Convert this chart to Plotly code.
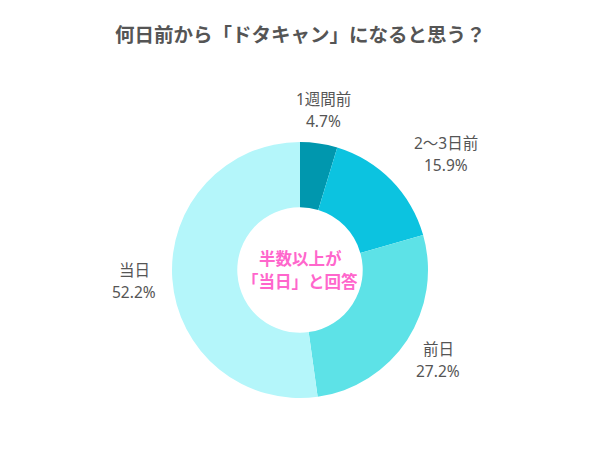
import math
import plotly.graph_objects as go

categories = ["1週間前", "2〜3日前", "前日", "当日"]
values = [4.7, 15.9, 27.2, 52.2]
value_labels = ["4.7%", "15.9%", "27.2%", "52.2%"]
colors = ["#0097AE", "#0CC3E0", "#5DE2E7", "#B4F6FA"]

title_text = "何日前から「ドタキャン」になると思う？"
center_lines = ["半数以上が", "「当日」と回答"]

W, H = 600, 450
cx, cy, R = 300, 270, 128  # pixel center / radius
label_style = dict(radius=[162, 187, 165, 166], angle_nudge=[0, 6, 0, 0])

FONT = "Noto Sans CJK JP"
LFONT = "Noto Sans, Noto Sans CJK JP"

fig = go.Figure(go.Pie(
    labels=categories, values=values, sort=False, direction="clockwise",
    rotation=0, hole=0.49, marker=dict(colors=colors, line=dict(width=0)),
    textinfo="none", hoverinfo="label+percent", showlegend=False,
    domain=dict(x=[(cx - R) / W, (cx + R) / W],
                y=[(H - cy - R) / H, (H - cy + R) / H]),
))

annotations = []
total = sum(values)
cum = 0
for i, (c, v, vl) in enumerate(zip(categories, values, value_labels)):
    mid = (cum + v / 2) / total * 2 * math.pi + math.radians(label_style["angle_nudge"][i])
    cum += v
    r = label_style["radius"][i]
    px = cx + r * math.sin(mid)
    py = cy - r * math.cos(mid)
    for txt, off in ((c, -11), (vl, 11)):
        annotations.append(dict(
            x=px / W, y=(H - (py + off)) / H, xref="paper", yref="paper",
            text=txt, showarrow=False, xanchor="center", yanchor="middle",
            font=dict(family=LFONT, size=15.5, color="#555555")))

for txt, off in zip(center_lines, (-12, 11)):
    annotations.append(dict(
        x=cx / W, y=(H - (cy + off)) / H, xref="paper", yref="paper",
        text="<b>" + txt + "</b>", showarrow=False,
        xanchor="center", yanchor="middle",
        font=dict(family=FONT, size=16.5, color="#FF66CC")))

annotations.append(dict(
    x=0.5, y=(H - 33) / H, xref="paper", yref="paper",
    text="<b>" + title_text + "</b>", showarrow=False,
    xanchor="center", yanchor="middle",
    font=dict(family=FONT, size=19.5, color="#555555")))

fig.update_layout(
    width=W, height=H, margin=dict(l=0, r=0, t=0, b=0),
    paper_bgcolor="white", plot_bgcolor="white",
    annotations=annotations,
)

fig.write_html("out.html")
